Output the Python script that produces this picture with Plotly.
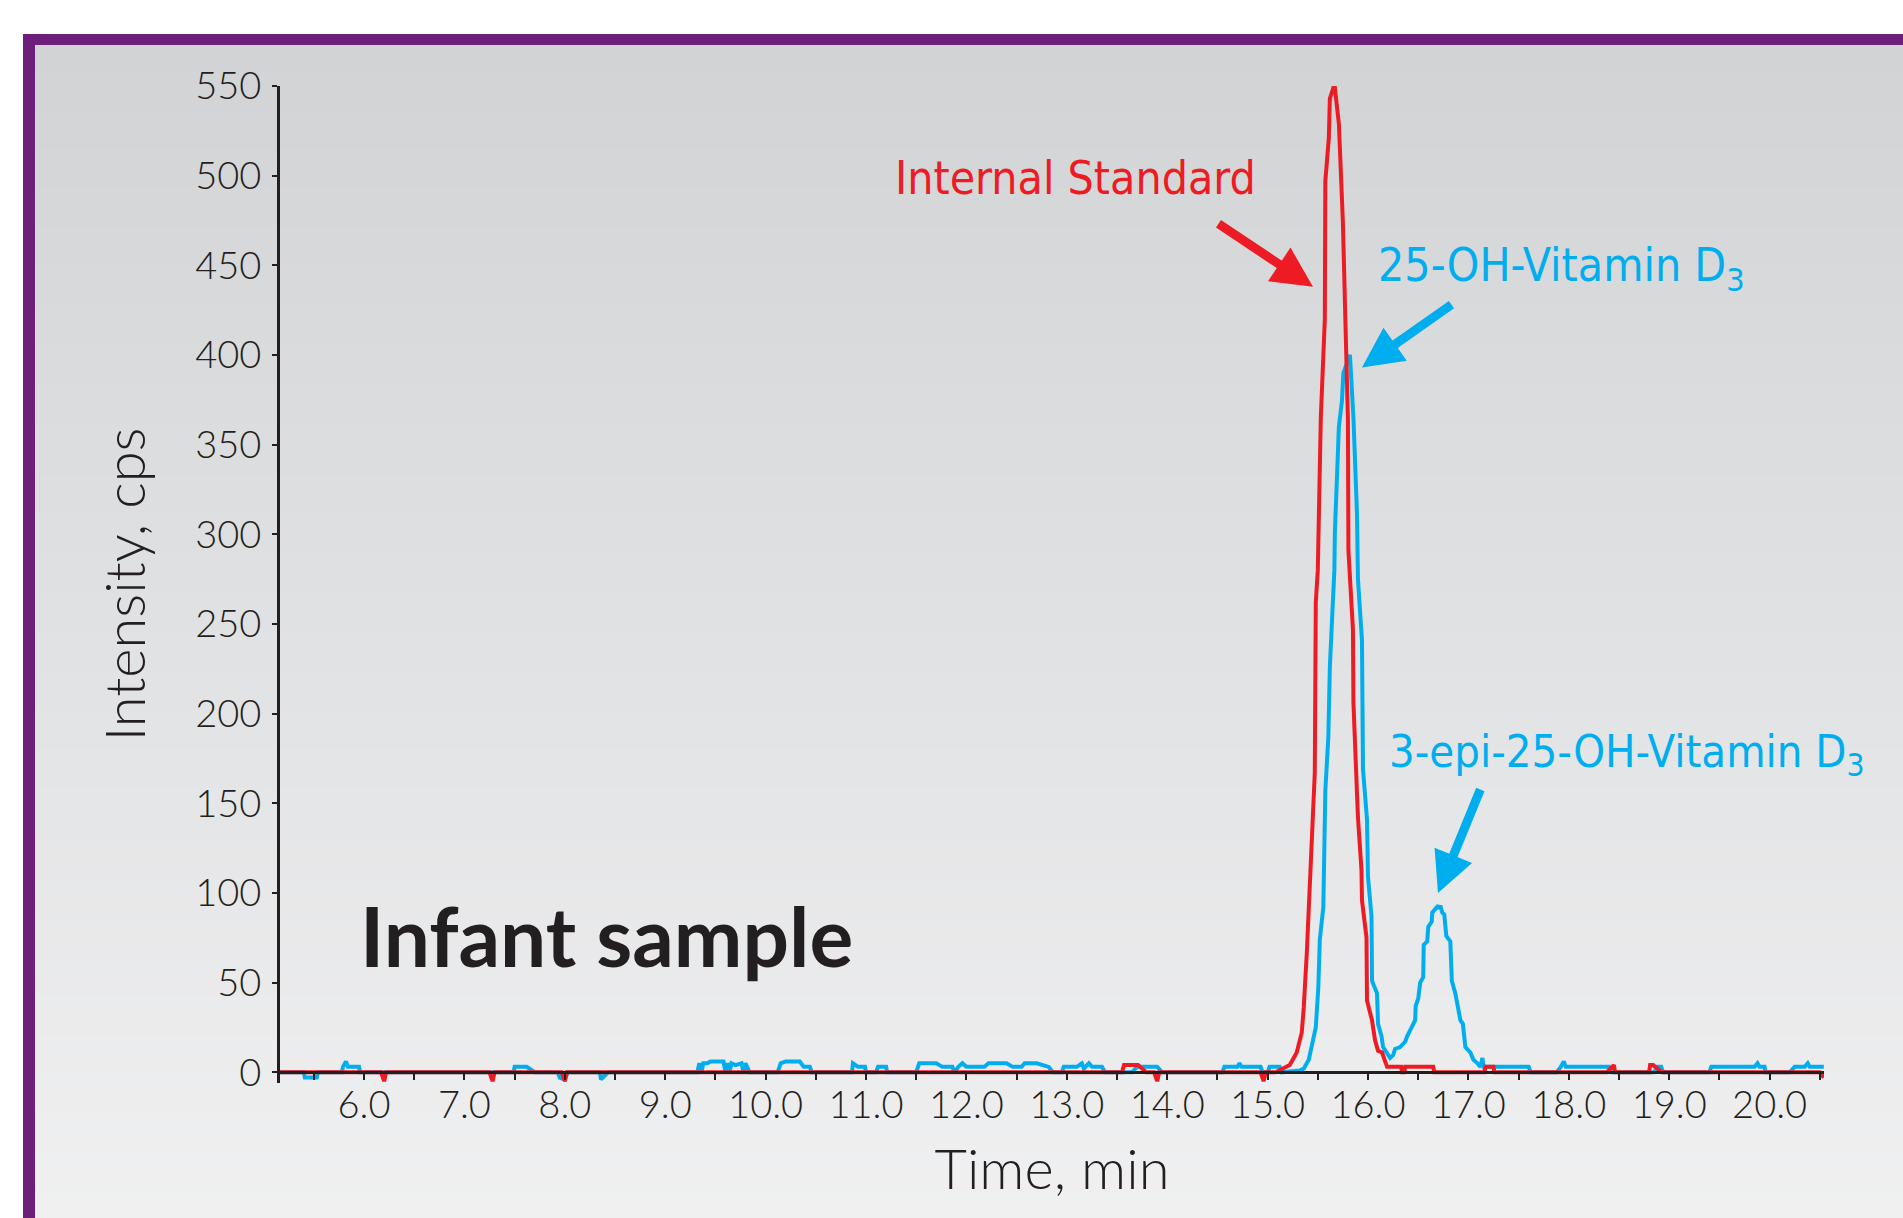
import plotly.graph_objects as go

# ---------------- data ----------------
red_time = [5.16, 6.17, 6.20, 6.22, 7.25, 7.28, 7.30, 7.97, 8.00, 8.02,
            13.55, 13.57, 13.71, 13.79, 13.87, 13.90, 13.92, 14.93, 14.96, 14.98, 15.08,
            15.16, 15.22, 15.26, 15.29, 15.34, 15.36, 15.39, 15.44, 15.47, 15.48, 15.50,
            15.53, 15.57, 15.575, 15.61, 15.62, 15.655, 15.67, 15.71, 15.75, 15.77, 15.78,
            15.80, 15.805, 15.82, 15.85, 15.855, 15.90, 15.935, 15.94, 15.985, 15.99, 16.04,
            16.07, 16.10, 16.14, 16.19, 16.33, 16.34, 16.36, 16.37, 16.65, 16.66,
            17.16, 17.17, 17.25, 17.26, 18.38, 18.45, 18.46, 18.80, 18.81, 18.84, 18.93,
            20.50, 20.54]
red_intensity = [0, 0, -5, 0, 0, -5, 0, 0, -5, 0,
                 0, 4, 4, 0, 0, -5, 0, 0, -5, 0, 0,
                 2, 4, 8, 11, 22, 36, 66, 135, 167, 262, 280,
                 365, 420, 497, 521, 543, 549, 549, 529, 474, 429, 414,
                 364, 291, 274, 247, 206, 142, 113, 96, 75, 40, 29,
                 18, 12, 11, 3, 3, 0, 0, 3, 3, 0,
                 0, 3, 3, 0, 0, 4, 0, 0, 4, 4, 0,
                 0, -3]

blue_time = [5.16, 5.40, 5.41, 5.53, 5.54, 5.78, 5.79, 5.82, 5.84, 5.95, 5.96,
             7.49, 7.50, 7.62, 7.70, 7.93, 7.95, 8.00, 8.03, 8.35, 8.36, 8.42, 8.43,
             9.32, 9.34, 9.36, 9.38, 9.42, 9.45, 9.58, 9.60, 9.62, 9.64, 9.66, 9.70, 9.76, 9.78, 9.80, 9.84,
             10.12, 10.15, 10.20, 10.34, 10.38, 10.44, 10.46,
             10.86, 10.87, 10.92, 10.99, 11.00, 11.10, 11.12, 11.20, 11.21,
             11.50, 11.53, 11.70, 11.76, 11.86, 11.88, 11.92, 11.96, 12.00, 12.18, 12.22, 12.40,
             12.46, 12.55, 12.58, 12.70, 12.82, 12.86,
             12.95, 12.97, 13.10, 13.15, 13.17, 13.22, 13.25, 13.35, 13.38,
             13.65, 13.70, 13.90, 13.95,
             14.55, 14.57, 14.70, 14.72, 14.74, 14.93, 14.95, 15.00, 15.02, 15.12, 15.14,
             15.32, 15.36, 15.41, 15.44, 15.48, 15.505, 15.52, 15.555, 15.57, 15.575, 15.605,
             15.62, 15.665, 15.67, 15.71, 15.74, 15.755, 15.81, 15.82, 15.855, 15.89, 15.90,
             15.94, 15.95, 15.99, 16.00, 16.035, 16.04, 16.09, 16.10, 16.135, 16.15, 16.19,
             16.22, 16.25, 16.27, 16.32, 16.37, 16.39, 16.44, 16.47, 16.475, 16.50, 16.52,
             16.55, 16.555, 16.59, 16.60, 16.635, 16.64, 16.67, 16.70, 16.71, 16.72, 16.74,
             16.76, 16.78, 16.82, 16.835, 16.87, 16.90, 16.92, 16.945, 16.97, 17.02, 17.05,
             17.09, 17.12, 17.14, 17.15, 17.30, 17.60, 17.62,
             17.88, 17.92, 17.95, 17.97, 18.40, 18.42,
             18.85, 18.88, 18.92, 18.94,
             19.40, 19.42, 19.85, 19.88, 19.90, 19.95, 19.96,
             20.20, 20.25, 20.35, 20.38, 20.40, 20.54]
blue_intensity = [0, 0, -3, -3, 0, 0, 3, 6, 3, 3, 0,
                  0, 3, 3, 0, 0, -3, -4, 0, 0, -4, -1, 0,
                  0, 5, 0, 5, 5, 6, 6, 0, 5, 0, 5, 4, 5, 0, 5, 0,
                  0, 5, 6, 6, 3, 3, 0,
                  0, 5, 3, 3, 0, 0, 3, 3, 0,
                  0, 5, 5, 3, 3, 0, 3, 5, 3, 3, 5, 5,
                  3, 3, 5, 5, 3, 0,
                  0, 3, 3, 5, 2, 5, 3, 3, 0,
                  0, 3, 3, 0,
                  0, 3, 3, 5, 3, 3, 0, 0, 3, 3, 0,
                  1, 2, 7, 14, 25, 47, 74, 92, 141, 157, 187,
                  226, 280, 301, 360, 374, 390, 400, 400, 365, 312, 275,
                  241, 169, 141, 109, 87, 51, 44, 27, 20, 14, 11,
                  8, 9.5, 13, 14, 17, 20, 25, 29, 37, 41, 50,
                  53, 71, 73, 81, 84, 89, 91, 93, 91, 93, 89,
                  88, 76, 73, 51, 44, 35, 29, 27, 14, 11, 7,
                  5, 3, 8, 3, 3, 3, 0,
                  0, 3, 6, 3, 3, 0,
                  0, 3, 3, 0,
                  0, 3, 3, 5, 3, 3, 0,
                  0, 3, 3, 5, 3, 3]

x_tick_values = [5.5, 6.0, 6.5, 7.0, 7.5, 8.0, 8.5, 9.0, 9.5, 10.0, 10.5, 11.0, 11.5, 12.0,
                 12.5, 13.0, 13.5, 14.0, 14.5, 15.0, 15.5, 16.0, 16.5, 17.0, 17.5, 18.0,
                 18.5, 19.0, 19.5, 20.0, 20.5]
x_tick_labels = ["", "6.0", "", "7.0", "", "8.0", "", "9.0", "", "10.0", "", "11.0", "", "12.0",
                 "", "13.0", "", "14.0", "", "15.0", "", "16.0", "", "17.0", "", "18.0",
                 "", "19.0", "", "20.0", ""]
y_tick_values = [0, 50, 100, 150, 200, 250, 300, 350, 400, 450, 500, 550]

# ---------------- layout helpers (pixel -> paper) ----------------
W, H = 1903, 1218
PL, PR, PT, PB = 280, 1824, 86, 1082.8
Y_MIN, Y_MAX = -6, 550
X_MIN, X_MAX = 5.163, 20.542


def px_x(x):
    return (x - PL) / (PR - PL)


def px_y(y):
    return (PB - y) / (PB - PT)


RED = "#ed1c24"
BLUE = "#00aeef"
INK = "#231f20"
PURPLE = "#6e1f7c"
LATO = "Lato, 'Open Sans', sans-serif"
TICK_FONT = dict(family=LATO, size=38, color=INK, weight=300)
NARROW = "'DejaVu Sans Condensed', sans-serif"

fig = go.Figure()
fig.add_trace(go.Scatter(x=blue_time, y=blue_intensity, mode="lines",
                         line=dict(color=BLUE, width=4), name="25-OH-Vitamin D3",
                         showlegend=False, hoverinfo="x+y"))
fig.add_trace(go.Scatter(x=red_time, y=red_intensity, mode="lines",
                         line=dict(color=RED, width=4), name="Internal Standard",
                         showlegend=False, hoverinfo="x+y"))

# ---------------- background gradient + frame ----------------
shapes = []
top_c = (209, 211, 213)
bot_c = (240, 240, 241)
y_start, y_end = 45, H
n_bands = 90
for i in range(n_bands):
    ya = y_start + (y_end - y_start) * i / n_bands
    yb = y_start + (y_end - y_start) * (i + 1) / n_bands + 1
    f = (i + 0.5) / n_bands
    c = tuple(round(top_c[k] + (bot_c[k] - top_c[k]) * f) for k in range(3))
    shapes.append(dict(type="rect", xref="paper", yref="paper", layer="below",
                       x0=px_x(34), x1=px_x(W + 5), y0=px_y(yb), y1=px_y(ya),
                       fillcolor="rgb(%d,%d,%d)" % c, line=dict(width=0)))
shapes.append(dict(type="rect", xref="paper", yref="paper", layer="below",
                   x0=px_x(23), x1=px_x(W + 5), y0=px_y(45), y1=px_y(34),
                   fillcolor=PURPLE, line=dict(width=0)))
shapes.append(dict(type="rect", xref="paper", yref="paper", layer="below",
                   x0=px_x(23), x1=px_x(35), y0=px_y(H + 5), y1=px_y(34),
                   fillcolor=PURPLE, line=dict(width=0)))

# ---------------- annotations ----------------
annotations = [
    dict(text="Internal Standard", xref="paper", yref="paper", x=px_x(1075), y=px_y(178),
         xanchor="center", yanchor="middle", showarrow=False,
         font=dict(family=NARROW, size=46, color=RED)),
    dict(text="25-OH-Vitamin D<sub>3</sub>", xref="paper", yref="paper", x=px_x(1561), y=px_y(268),
         xanchor="center", yanchor="middle", showarrow=False,
         font=dict(family=NARROW, size=46, color=BLUE)),
    dict(text="3-epi-25-OH-Vitamin D<sub>3</sub>", xref="paper", yref="paper", x=px_x(1627), y=px_y(754),
         xanchor="center", yanchor="middle", showarrow=False,
         font=dict(family=NARROW, size=45, color=BLUE)),
    dict(text="<b>Infant sample</b>", xref="paper", yref="paper", x=px_x(358), y=px_y(935),
         xanchor="left", yanchor="middle", showarrow=False,
         font=dict(family=LATO, size=82, color=INK)),
    # arrows (tip at data point, tail offset in pixels)
    dict(text="", x=15.452, y=438, xref="x", yref="y", ax=-96, ay=-64,
         showarrow=True, arrowhead=2, arrowsize=0.9, arrowwidth=9, arrowcolor=RED, standoff=0),
    dict(text="", x=15.94, y=393, xref="x", yref="y", ax=91, ay=-64,
         showarrow=True, arrowhead=2, arrowsize=0.9, arrowwidth=9, arrowcolor=BLUE, standoff=0),
    dict(text="", x=16.697, y=100, xref="x", yref="y", ax=43, ay=-105,
         showarrow=True, arrowhead=2, arrowsize=0.9, arrowwidth=9, arrowcolor=BLUE, standoff=0),
]

fig.update_layout(
    width=W, height=H,
    margin=dict(l=PL, r=W - PR, t=PT, b=H - PB, pad=0),
    paper_bgcolor="white",
    plot_bgcolor="rgba(0,0,0,0)",
    showlegend=False,
    shapes=shapes,
    annotations=annotations,
    xaxis=dict(
        range=[X_MIN, X_MAX], anchor="free", position=(0 - Y_MIN) / (Y_MAX - Y_MIN),
        showgrid=False, zeroline=False,
        showline=True, linecolor=INK, linewidth=3,
        tickmode="array", tickvals=x_tick_values, ticktext=x_tick_labels,
        ticks="outside", ticklen=6, tickwidth=2, tickcolor=INK,
        tickfont=TICK_FONT, ticklabelstandoff=-8,
        title=dict(text="Time, min", font=dict(family=LATO, size=56, color=INK, weight=300),
                   standoff=24),
    ),
    yaxis=dict(
        range=[Y_MIN, Y_MAX],
        showgrid=False, zeroline=False,
        showline=True, linecolor=INK, linewidth=3,
        tickmode="array", tickvals=y_tick_values,
        ticks="outside", ticklen=5, tickwidth=2, tickcolor=INK,
        tickfont=TICK_FONT, ticklabelstandoff=3,
        title=dict(text="Intensity, cps", font=dict(family=LATO, size=56, color=INK, weight=300),
                   standoff=32),
    ),
)

fig.write_html("out.html")
